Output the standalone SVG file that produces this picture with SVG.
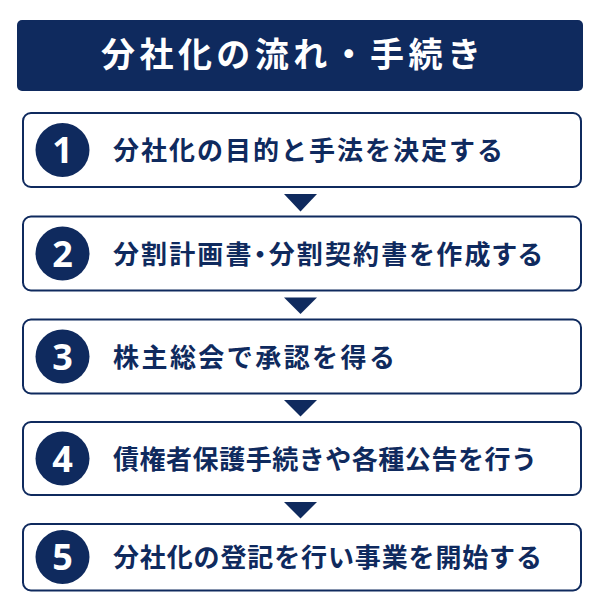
<svg xmlns="http://www.w3.org/2000/svg" width="600" height="600" viewBox="0 0 600 600">
<style>
.hdr{fill:#0f2a5e}
.box{fill:#ffffff;stroke:#0f2a5e;stroke-width:2}
.num-bg{fill:#0f2a5e}
.num{fill:#ffffff;font-family:"Noto Sans","Liberation Sans",sans-serif;font-weight:700;font-size:36px;text-anchor:middle}
.title{fill:#ffffff;font-family:"Noto Sans CJK JP",sans-serif;font-weight:700;font-size:34px}
.lbl{fill:#0f2a5e;font-family:"Noto Sans CJK JP",sans-serif;font-weight:700;font-size:26px}
.palt{font-feature-settings:"palt"}
.arrow{fill:#0f2a5e}
</style>
<rect width="600" height="600" fill="#ffffff"/>
<g id="header">
<rect class="hdr" x="17" y="20" width="566" height="71" rx="5"/>
<text class="title" x="101" y="67" textLength="380" lengthAdjust="spacing">分社化の流れ・手続き</text>
</g>
<g id="connectors">
<polygon class="arrow" points="284,194 317,194 300.5,211.5"/>
<polygon class="arrow" points="284,297.5 317,297.5 300.5,314"/>
<polygon class="arrow" points="284,400 317,400 300.5,416.5"/>
<polygon class="arrow" points="284,502 317,502 300.5,518.5"/>
</g>
<g id="step1">
<rect class="box" x="23" y="113" width="558" height="74" rx="8"/>
<circle class="num-bg" cx="62.5" cy="150" r="27"/>
<text class="num" x="62.5" y="163">1</text>
<text class="lbl" x="113" y="160" textLength="390" lengthAdjust="spacing">分社化の目的と手法を決定する</text>
</g>
<g id="step2">
<rect class="box" x="23" y="216.5" width="558" height="74" rx="8"/>
<circle class="num-bg" cx="62.5" cy="253.5" r="27"/>
<text class="num" x="62.5" y="266.5">2</text>
<text class="lbl palt" x="113" y="263.5" textLength="429" lengthAdjust="spacing">分割計画書・分割契約書を作成する</text>
</g>
<g id="step3">
<rect class="box" x="23" y="319.5" width="558" height="74" rx="8"/>
<circle class="num-bg" cx="62.5" cy="356.5" r="27"/>
<text class="num" x="62.5" y="369.5">3</text>
<text class="lbl" x="113" y="366.5" textLength="282" lengthAdjust="spacing">株主総会で承認を得る</text>
</g>
<g id="step4">
<rect class="box" x="23" y="422" width="558" height="73" rx="8"/>
<circle class="num-bg" cx="62.5" cy="458.5" r="27"/>
<text class="num" x="62.5" y="471.5">4</text>
<text class="lbl" x="113" y="468.5" textLength="424" lengthAdjust="spacing">債権者保護手続きや各種公告を行う</text>
</g>
<g id="step5">
<rect class="box" x="23" y="524" width="558" height="66.5" rx="8"/>
<circle class="num-bg" cx="62.5" cy="557" r="27"/>
<text class="num" x="62.5" y="570">5</text>
<text class="lbl" x="113" y="567" textLength="429" lengthAdjust="spacing">分社化の登記を行い事業を開始する</text>
</g>
</svg>
